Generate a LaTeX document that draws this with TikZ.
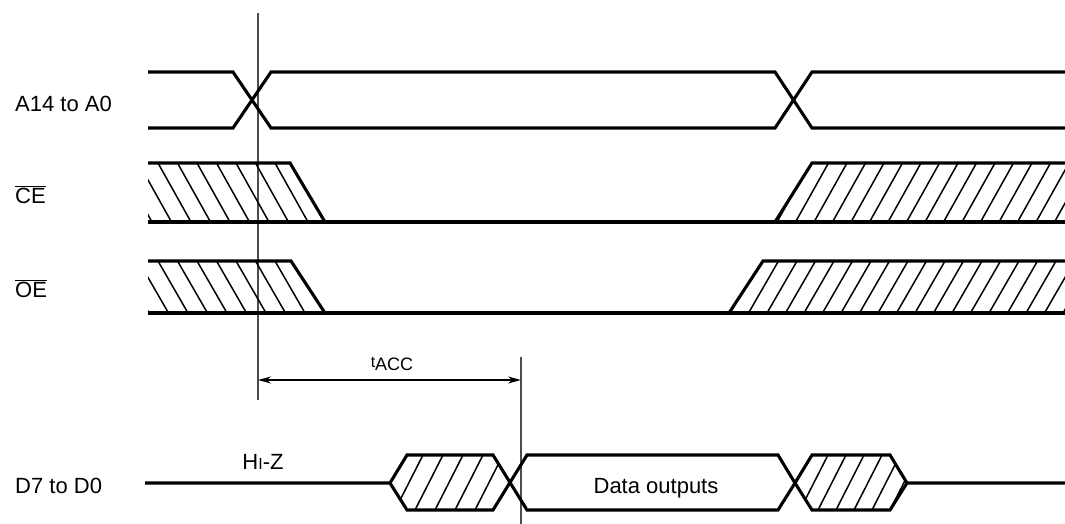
\documentclass[tikz,border=0pt]{standalone}
\usepackage{fontspec}
\setmainfont{Liberation Sans}
\usetikzlibrary{arrows.meta}
\begin{document}
\begin{tikzpicture}[x=1pt,y=-1pt,
  wave/.style={line width=3.1pt,line join=miter},
  hatchline/.style={line width=1.5pt},
  refline/.style={line width=1.7pt,draw=black!70},
  lbl/.style={font=\fontsize{22}{26}\selectfont,inner sep=0pt,anchor=base west},
  dim/.style={line width=1.5pt,{Stealth[length=13pt,width=7pt]}-{Stealth[length=13pt,width=7pt]}},
]
\fill[white] (0,0) rectangle (1065,524);
\useasboundingbox (0,0) rectangle (1065,524);

% reference lines
\coordinate (r1t) at (258,13);
\coordinate (r1b) at (258,400);
\coordinate (r2t) at (521,357);
\coordinate (r2b) at (521,524);
\draw[refline] (r1t)--(r1b);
\draw[refline] (r2t)--(r2b);

% A14 to A0
\draw[wave] (148,72)--(233,72)--(271,128)--(775,128)--(812,72)--(1065,72);
\draw[wave] (148,128)--(233,128)--(271,72)--(775,72)--(812,128)--(1065,128);

% CE
\begin{scope}
\clip (148,163)--(290,163)--(325,222)--(148,222)--cycle;
\foreach \k in {-4,...,9} \draw[hatchline] ({158+19.5*\k},163)--++(33,59);
\end{scope}
\begin{scope}
\clip (775,222)--(812,163)--(1065,163)--(1065,222)--cycle;
\foreach \k in {0,...,17} \draw[hatchline] ({777+18.5*\k},222)--++(33,-59);
\end{scope}
\draw[wave] (148,222)--(1065,222);
\draw[wave] (148,163)--(290,163)--(325,222);
\draw[wave] (775,222)--(812,163)--(1065,163);

% OE
\begin{scope}
\clip (148,261)--(291,261)--(325,313)--(148,313)--cycle;
\foreach \k in {-4,...,9} \draw[hatchline] ({158+19.5*\k},261)--++(30,52);
\end{scope}
\begin{scope}
\clip (729,313)--(763,261)--(1065,261)--(1065,313)--cycle;
\foreach \k in {0,...,19} \draw[hatchline] ({730+18.5*\k},313)--++(30,-52);
\end{scope}
\draw[wave] (148,313)--(1065,313);
\draw[wave] (148,261)--(291,261)--(325,313);
\draw[wave] (729,313)--(763,261)--(1065,261);

% D7 to D0
\begin{scope}
\clip (390,483)--(407,455)--(493,455)--(510,483)--(493,510)--(407,510)--cycle;
\foreach \k in {-1,...,6} \draw[hatchline] ({395+20*\k},510)--++(28,-55);
\end{scope}
\begin{scope}
\clip (795,483)--(812,455)--(890,455)--(907,483)--(890,510)--(812,510)--cycle;
\foreach \k in {-1,...,6} \draw[hatchline] ({800+18*\k},510)--++(28,-55);
\end{scope}
\draw[wave] (145,483)--(390,483)--(407,455)--(493,455)--(527,510)--(778,510)--(795,483)--(812,455)--(890,455)--(907,483)--(1065,483);
\draw[wave] (390,483)--(407,510)--(493,510)--(527,455)--(778,455)--(795,483)--(812,510)--(890,510)--(907,483);

% tACC dimension
\coordinate (a1) at (258,380);
\coordinate (a2) at (521,380);
\draw[dim] (a1)--(a2);

% labels
\node[lbl] (la) at (15,112) {A14 to A0};
\node[lbl] (lce) at (15,203) {$\overline{\mbox{CE}}$};
\node[lbl] (loe) at (15,297) {$\overline{\mbox{OE}}$};
\node[lbl] (ld) at (15,493) {D7 to D0};
\node[lbl,anchor=base] (hiz) at (263,469) {H{\fontsize{16}{16}\selectfont I}-Z};
\node[lbl,anchor=base] (data) at (656,493) {Data outputs};
\node[lbl,anchor=base] (tacc) at (392,370) {{\fontsize{16}{16}\selectfont\raisebox{3pt}{t}}{\fontsize{18}{20}\selectfont ACC}};
\end{tikzpicture}
\end{document}
